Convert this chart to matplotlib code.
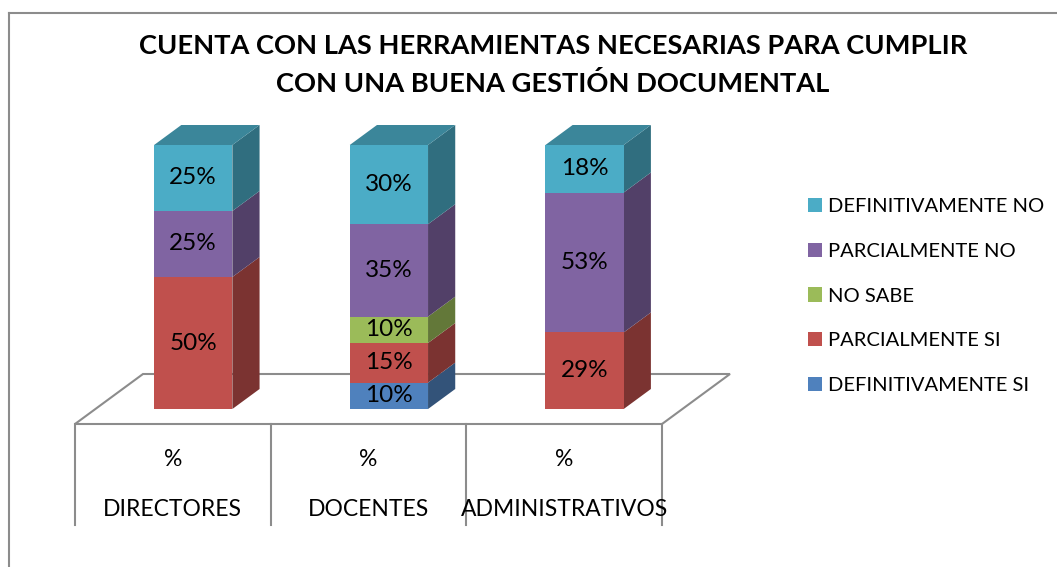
import matplotlib
matplotlib.use("Agg")
import matplotlib.pyplot as plt
from matplotlib.patches import Polygon, Patch
from matplotlib.lines import Line2D
import numpy as np

plt.rcParams['font.family'] = ['Lato', 'DejaVu Sans']

# data
grupos = ["DIRECTORES", "DOCENTES", "ADMINISTRATIVOS"]
series = ["DEFINITIVAMENTE SI", "PARCIALMENTE SI", "NO SABE",
          "PARCIALMENTE NO", "DEFINITIVAMENTE NO"]
def_si = [0, 10, 0]
parc_si = [50, 15, 29]
no_sabe = [0, 10, 0]
parc_no = [25, 35, 53]
def_no = [25, 30, 18]
valores = [def_si, parc_si, no_sabe, parc_no, def_no]
colores = ["#4F81BD", "#C0504D", "#9BBB59", "#8064A2", "#4BACC6"]

titulo = "CUENTA CON LAS HERRAMIENTAS NECESARIAS PARA CUMPLIR\nCON UNA BUENA GESTIÓN DOCUMENTAL"

W, H = 1057, 567
fig = plt.figure(figsize=(W / 100, H / 100), dpi=100)
ax = fig.add_axes([0, 0, 1, 1])

# pixel mapping: x -0.5 -> 75px, 2.5 -> 662px ; y 0 -> 409px, 100 -> 145px
px_x = (662 - 75) / 3.0
px_y = (409 - 145) / 100.0
ax.set_xlim(-0.5 - 75 / px_x, -0.5 + (W - 75) / px_x)
ax.set_ylim((409 - H) / px_y, 409 / px_y)
ax.axis("off")

# depth of the floor (data units)
DX = 68 / px_x
DY = 50 / px_y
f_front = 0.3   # bar front face at this fraction of floor depth
f_bar = 0.4     # bar depth as fraction of floor depth
ancho = 0.4

def shade(c, k):
    rgb = np.array(matplotlib.colors.to_rgb(c))
    return tuple(rgb * k)

# floor
y0 = -f_front * DY
gris = "#8C8C8C"
n = len(grupos)
piso = Polygon([(-0.5, y0), (n - 0.5, y0), (n - 0.5 + DX, y0 + DY), (-0.5 + DX, y0 + DY)],
               closed=True, facecolor="white", edgecolor=gris, lw=1.5, zorder=1)
ax.add_patch(piso)
y_low = (409 - 525) / px_y
for i in range(n + 1):
    ax.plot([i - 0.5, i - 0.5], [y0, y_low], color=gris, lw=1.5, zorder=1)

# bars
xs = np.arange(n) + f_front * DX
dx, dy = f_bar * DX, f_bar * DY
bottoms = np.zeros(n)
handles = []
for vals, col, name in zip(valores, colores, series):
    vals = np.array(vals, dtype=float)
    ax.bar(xs, vals, ancho, bottom=bottoms, color=col, zorder=3, linewidth=0)
    for i in range(n):
        if vals[i] <= 0:
            continue
        x1 = xs[i] + ancho / 2
        b, t = bottoms[i], bottoms[i] + vals[i]
        ax.add_patch(Polygon([(x1, b), (x1 + dx, b + dy), (x1 + dx, t + dy), (x1, t)],
                             closed=True, facecolor=shade(col, 0.64), lw=0, zorder=2))
        ax.text(xs[i], b + vals[i] / 2, f"{int(vals[i])}%", ha="center", va="center",
                fontsize=17.5, color="black", zorder=5)
    handles.append(Patch(facecolor=col, label=name))
    bottoms = bottoms + vals

# top faces
for i in range(n):
    x0, x1 = xs[i] - ancho / 2, xs[i] + ancho / 2
    t = bottoms[i]
    ax.add_patch(Polygon([(x0, t), (x0 + dx, t + dy), (x1 + dx, t + dy), (x1, t)],
                         closed=True, facecolor=shade(colores[-1], 0.78), lw=0, zorder=2))

# category labels
for i, g in enumerate(grupos):
    ax.text(i, (409 - 459) / px_y, "%", ha="center", va="center", fontsize=16.5)
    ax.text(i, (409 - 510) / px_y, g, ha="center", va="center", fontsize=16.5)

# title
fig.text(553 / W, 1 - 65 / H, titulo, ha="center", va="center", fontsize=19.6,
         fontweight="bold", linespacing=1.6)

# legend
leg = fig.legend(handles=handles[::-1], loc="upper left", bbox_to_anchor=(798 / W, 1 - 188 / H),
                 frameon=False, fontsize=14.5, handlelength=0.7, handleheight=0.7,
                 handletextpad=0.3, labelspacing=1.37, borderpad=0)

# outer frame (top and left visible)
fig.add_artist(Line2D([9 / W, 1], [1 - 13 / H, 1 - 13 / H], color="#8C8C8C", lw=1.5))
fig.add_artist(Line2D([9 / W, 9 / W], [0, 1 - 13 / H], color="#8C8C8C", lw=1.5))

fig.savefig("out.png", dpi=100)
